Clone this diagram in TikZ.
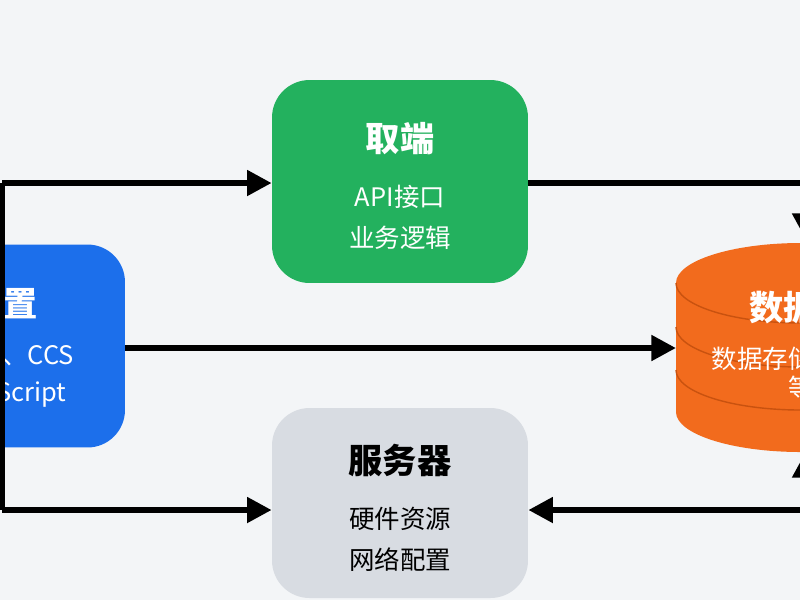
\documentclass[tikz,border=0pt]{standalone}
\usepackage{fontspec}
\setmainfont{Noto Sans CJK SC}
\usetikzlibrary{arrows.meta}
\definecolor{bg}{HTML}{F3F5F7}
\definecolor{cgreen}{HTML}{23B15E}
\definecolor{cblue}{HTML}{1C6FEB}
\definecolor{cgray}{HTML}{D8DCE2}
\definecolor{corange}{HTML}{F26B1D}
\definecolor{corangeD}{HTML}{C9520F}
\newcommand{\ttlf}{\fontsize{19.5}{22}\selectfont\bfseries}
\newcommand{\bodf}{\fontsize{14.5}{24}\selectfont}
\begin{document}
\begin{tikzpicture}[x=0.02cm,y=-0.02cm,
 box/.style={rounded corners=0.75cm,minimum width=5.12cm,minimum height=4.06cm,inner sep=0pt},
 txt/.style={align=center,inner sep=0pt},
 conn/.style={line width=3.4pt,-{Triangle[length=14pt,width=14pt]}},
 plain/.style={line width=3.4pt}]
\useasboundingbox (0,0) rectangle (800,600);
\fill[bg] (0,0) rectangle (800,600);
\clip (0,0) rectangle (800,600);
\node[box,fill=cgreen] (api) at (400,181.5) {};
\node[txt,text=white] (apit) at (400,186) {{\ttlf 取端}\\[16pt]{\bodf API接口}\\[9pt]{\bodf 业务逻辑}};
\node[box,fill=cgray,minimum height=3.8cm] (srv) at (400,503) {};
\node[txt,text=black] (srvt) at (400,508) {{\ttlf 服务器}\\[16pt]{\bodf 硬件资源}\\[9pt]{\bodf 网络配置}};
\node[box,fill=cblue,minimum width=6.4cm] (fe) at (-35,346) {};
\node[txt,text=white] (fet) at (4,348) {{\ttlf 配置}\\[14pt]{\bodf HTML、CCS}\\[8pt]{\bodf JavaScript}};
\fill[corange] (676,283) -- (676,412) arc[start angle=180,end angle=0,x radius=125,y radius=40] -- (926,283) -- cycle;
\fill[corange] (801,283) ellipse[x radius=125,y radius=40];
\draw[corangeD,line width=0.8pt] (676,283) arc[start angle=180,end angle=0,x radius=125,y radius=40];
\draw[corangeD,line width=0.8pt] (676,327) arc[start angle=180,end angle=0,x radius=125,y radius=40];
\draw[corangeD,line width=0.8pt] (676,370) arc[start angle=180,end angle=0,x radius=125,y radius=40];
\node[inner sep=0pt,minimum width=5cm,minimum height=4.2cm] (db) at (801,347) {};
\node[txt,text=white] (dbt) at (801,345) {{\ttlf 数据库}\\[12pt]{\bodf 数据存储、管理}\\[2pt]{\bodf 等}};
\coordinate (tl) at (2,183);
\coordinate (bl) at (2,510);
\coordinate (tr) at (805,183);
\coordinate (br) at (805,510);
\coordinate (ma) at (125,348);
\coordinate (mb) at (676,348);
\coordinate (dt) at (805,238);
\coordinate (dbb) at (805,453);
\draw[plain] (bl) -- (tl);
\draw[conn] (tl) -- (api.west|-tl);
\draw[conn] (bl) -- (srv.west|-bl);
\draw[conn] (ma) -- (mb);
\draw[conn] (api.east|-tr) -- (tr) -- (dt);
\draw[conn] (br) -- (srv.east|-br);
\draw[conn] (br) -- (dbb);
\end{tikzpicture}
\end{document}
